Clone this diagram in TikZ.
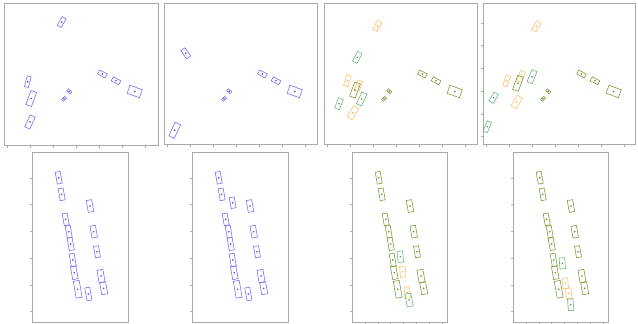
\documentclass[tikz,border=0pt]{standalone}
\definecolor{cblue}{RGB}{115,115,250}
\definecolor{cbluedot}{RGB}{65,65,215}
\definecolor{colive}{RGB}{125,158,58}
\definecolor{colivedot}{RGB}{80,135,30}
\definecolor{cgreen}{RGB}{110,182,125}
\definecolor{cgreendot}{RGB}{55,155,85}
\definecolor{corange}{RGB}{255,192,105}
\definecolor{corangedot}{RGB}{248,165,55}
\definecolor{cframe}{RGB}{170,170,170}
\tikzset{
  rb/.style={line width=0.6pt, inner sep=0pt, outer sep=0pt, fill=none},
  bl/.style={rb, draw=cblue}, bl dot/.style={fill=cbluedot},
  ol/.style={rb, draw=colive}, ol dot/.style={fill=colivedot},
  gr/.style={rb, draw=cgreen}, gr dot/.style={fill=cgreendot},
  or/.style={rb, draw=corange}, or dot/.style={fill=corangedot},
  panel/.style={draw=cframe, line width=0.7pt},
  tk/.style={draw=cframe, line width=0.5pt}
}
\newcommand\rbox[7]{%
  \node[#7, rotate=#4, minimum width=#5pt, minimum height=#6pt] (#1) at (#2,#3) {};
  \fill[#7 dot] (#1.center) circle (0.85pt);}
\newcommand\bcommon[2]{%
  \foreach \x/\y/\l/\w [count=\i] in {58.7/177.7/12/5, 61.7/194.3/12/5, 90/206/12/5.5,
     65.7/219.3/12/5, 68.7/231.7/12/5, 93.7/231.7/12/5.5, 70.7/244/12.5/5,
     97/251.7/11.5/5, 72.7/260/13/5, 74.3/272.7/13/5.5, 101/276/12.5/6,
     77.7/289.3/17/6, 103.7/288.3/12/6}{%
    \rbox{#1\i}{\x}{\y}{100}{\l}{\w}{#2}}}
\newcommand\tcommon[2]{%
  \rbox{#1a}{102.5}{74}{-28}{8.5}{4.5}{#2}
  \rbox{#1b}{116}{80.8}{-28}{8.5}{4.5}{#2}
  \rbox{#1c}{134.7}{91.5}{-20}{13}{8.5}{#2}
  \rbox{#1d}{69.2}{91.3}{-40}{4.5}{2.6}{#2}
  \rbox{#1e}{64}{98.8}{40}{4.5}{2.6}{#2}}
\begin{document}
\begin{tikzpicture}[x=1pt,y=-1pt]
\useasboundingbox (0,0) rectangle (638,324);
\fill[white] (0,0) rectangle (638,324);
% ---------- top panels ----------
\foreach \l/\r/\b in {4/158/145, 164/317/144, 324/477/144, 483/635/144}{
  \draw[panel] (\l,3) rectangle (\r,\b);
  \foreach \k in {0,...,6}{\draw[tk] ({\l+3.3+23*\k},\b) -- ({\l+3.3+23*\k},\b+2.5);}
}
\foreach \k in {0,...,5}{\draw[tk] (483,{23+22.7*\k}) -- (480.5,{23+22.7*\k});}
% panel 1
\tcommon{pa}{bl}
\rbox{pa1}{61.7}{22}{60}{10}{4.5}{bl}
\rbox{pa2}{27.8}{81.7}{75}{11}{4}{bl}
\rbox{pa3}{31.2}{98.5}{70}{15}{6}{bl}
\rbox{pa4}{30}{122}{65}{13}{5.5}{bl}
% panel 2
\begin{scope}[xshift=160pt]\tcommon{pb}{bl}\end{scope}
\rbox{pb1}{185.7}{53.3}{-55}{10}{5}{bl}
\rbox{pb2}{174.7}{130.3}{65}{15}{6}{bl}
% panel 3
\begin{scope}[xshift=320pt]\tcommon{pc}{ol}\end{scope}
\rbox{pc1}{377.3}{26}{60}{10}{5}{or}
\rbox{pc2}{357.3}{57.3}{62}{11}{5}{gr}
\rbox{pc3}{347.3}{80.7}{72}{11}{4.5}{or}
\rbox{pc4}{358.3}{86}{70}{11}{5}{or}
\rbox{pc5}{355}{90}{70}{15}{6}{ol}
\rbox{pc6}{361.7}{99}{65}{13}{5.5}{gr}
\rbox{pc7}{339}{103.7}{68}{11}{5}{gr}
\rbox{pc8}{353}{112.7}{60}{13}{6}{or}
% panel 4
\begin{scope}[xshift=479pt]\tcommon{pd}{ol}\end{scope}
\rbox{pd1}{536.3}{26.3}{60}{10}{5}{or}
\rbox{pd2}{506.7}{81}{72}{11}{4.5}{or}
\rbox{pd3}{521}{76.5}{70}{11}{5}{or}
\rbox{pd4}{518}{83.3}{70}{15}{6}{ol}
\rbox{pd5}{532}{76.7}{68}{13}{5.5}{gr}
\rbox{pd6}{493.7}{97.7}{60}{10}{5}{gr}
\rbox{pd7}{516.7}{102}{58}{12}{6}{or}
\rbox{pd8}{487.3}{126.7}{68}{11}{4.5}{gr}
% ---------- bottom panels ----------
\foreach \l/\r in {32/128, 192/288, 352/447, 513/608}{
  \draw[panel] (\l,152) rectangle (\r,322);
  \foreach \k in {0,...,5}{\draw[tk] (\l,{178+26.7*\k}) -- (\l-2.5,{178+26.7*\k});}
}
\foreach \l in {352,513}{
  \foreach \k in {0,...,6}{\draw[tk] ({\l+13+12.8*\k},322) -- ({\l+13+12.8*\k},324);}
}
% panel 5
\bcommon{qa}{bl}
\rbox{qa14}{88.3}{294}{100}{13}{5}{bl}
% panel 6
\begin{scope}[xshift=160pt]
\bcommon{qb}{bl}
\rbox{qb14}{88.3}{294}{100}{13}{5}{bl}
\rbox{qb15}{72.7}{202.7}{100}{11}{5}{bl}
\end{scope}
% panel 7
\begin{scope}[xshift=320pt]\bcommon{qc}{ol}\end{scope}
\rbox{qc14}{400.3}{256.7}{95}{11}{5.5}{gr}
\rbox{qc15}{402.8}{271.7}{95}{11}{5.5}{or}
\rbox{qc16}{407.3}{292.5}{95}{11}{5.5}{or}
\rbox{qc17}{409}{300}{100}{13}{6}{gr}
% panel 8
\begin{scope}[xshift=481pt]\bcommon{qd}{ol}\end{scope}
\rbox{qd14}{562.3}{263.3}{95}{11}{5.5}{gr}
\rbox{qd15}{565.3}{283.3}{95}{10.5}{5.5}{or}
\rbox{qd16}{568.7}{293.3}{95}{10.5}{5.5}{or}
\rbox{qd17}{570.7}{304.7}{95}{11.5}{5.5}{gr}
\end{tikzpicture}
\end{document}
